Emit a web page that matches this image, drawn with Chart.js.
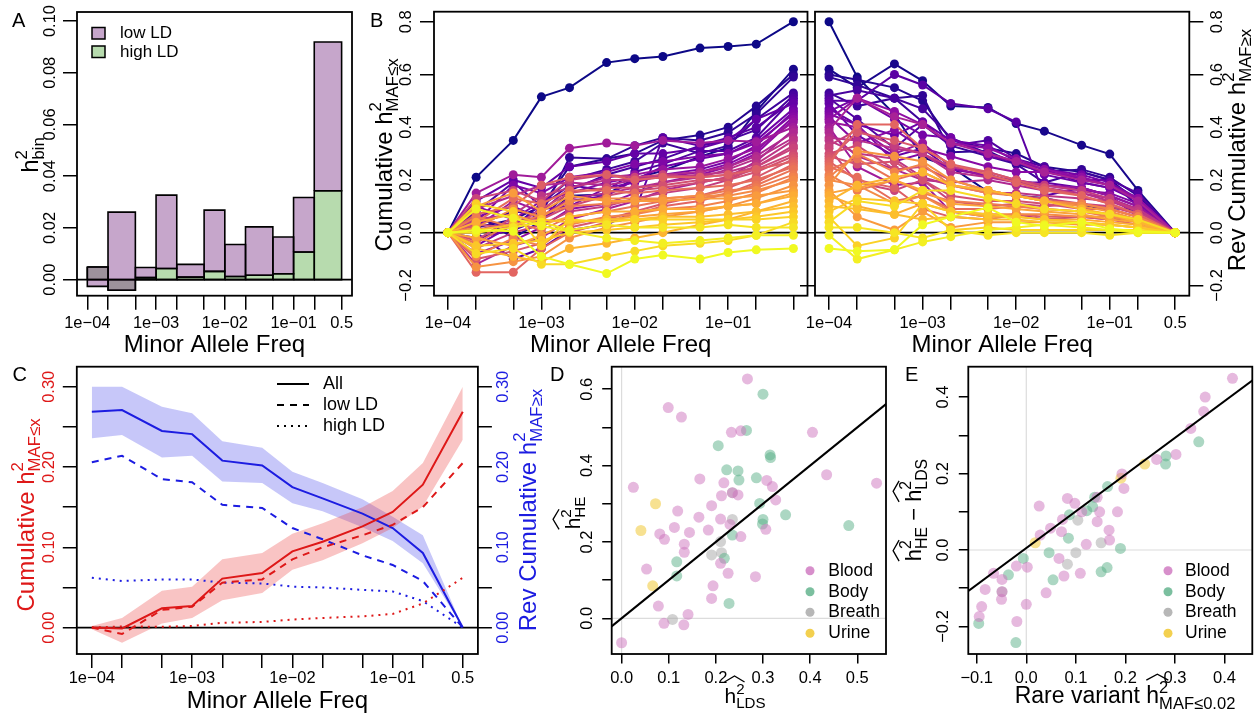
<!DOCTYPE html>
<html>
<head>
<meta charset="utf-8">
<title>Heritability by minor allele frequency</title>
<script src="https://cdn.jsdelivr.net/npm/chart.js@4.4.1/dist/chart.umd.min.js"></script>
<style>
  body { margin: 0; background: #fff; }
  #fig { position: relative; width: 1260px; height: 719px; overflow: hidden; background: #fff; }
  #fig canvas { position: absolute; }
</style>
</head>
<body>
<div id="fig">
  <canvas id="chartA"></canvas>
  <canvas id="chartB1"></canvas>
  <canvas id="chartB2"></canvas>
  <canvas id="chartC"></canvas>
  <canvas id="chartD"></canvas>
  <canvas id="chartE"></canvas>
</div>
<script>
const FONT = '"Liberation Sans", Arial, Helvetica, sans-serif';
const TICK_FONT = 16.5;
const ROT = -Math.PI / 2;

// ---- shared x axis: minor allele frequency bin edges ----
const mafEdges = [1e-4, 2e-4, 5e-4, 1e-3, 2e-3, 5e-3, 1e-2, 2e-2, 5e-2, 0.1, 0.2, 0.5];
const mafLabelAt = [1e-4, 1e-3, 1e-2, 1e-1, 0.5];
const mafLabels = ['1e\u221204', '1e\u221203', '1e\u221202', '1e\u221201', '0.5'];

// ---- A: h2 per bin (high LD stacked first, low LD on top of it) ----
const binHighLD = [0.0049, -0.0041, 0.0008, 0.0043, 0.0010, 0.0032, 0.0012, 0.0017, 0.0023, 0.0107, 0.0344];
const binLowLD = [-0.0075, 0.0302, 0.0039, 0.0284, 0.0049, 0.0237, 0.0124, 0.0187, 0.0142, 0.0211, 0.0575];
const aTicks = [0, 0.02, 0.04, 0.06, 0.08, 0.10];
const aLabels = ['0.00', '0.02', '0.04', '0.06', '0.08', '0.10'];

// ---- B: cumulative h2 (MAF <= x) per trait, one row per trait ----
const traitCum = [
  [0, 0.21, 0.35, 0.515, 0.55, 0.645, 0.66, 0.668, 0.70, 0.706, 0.715, 0.80],
  [0, 0.07, -0.02, 0.044, 0.14, 0.145, 0.206, 0.235, 0.288, 0.322, 0.46, 0.62],
  [0, 0.02, 0.05, 0.10, 0.25, 0.28, 0.30, 0.35, 0.37, 0.40, 0.48, 0.60],
  [0, 0.03, 0.08, 0.07, 0.285, 0.28, 0.33, 0.36, 0.35, 0.38, 0.45, 0.59],
  [0, 0.05, 0.02, 0.11, 0.20, 0.24, 0.27, 0.34, 0.30, 0.33, 0.43, 0.53],
  [0, -0.02, 0.01, 0.05, 0.16, 0.22, 0.25, 0.28, 0.33, 0.35, 0.39, 0.52],
  [0, 0.08, 0.19, 0.10, 0.18, 0.16, 0.23, 0.26, 0.31, 0.31, 0.36, 0.51],
  [0, 0.0, -0.10, -0.06, 0.01, 0.03, 0.08, 0.36, 0.33, 0.36, 0.40, 0.50],
  [0, 0.12, 0.20, 0.17, 0.25, 0.27, 0.30, 0.30, 0.32, 0.35, 0.43, 0.49],
  [0, 0.06, 0.10, 0.05, 0.12, 0.14, 0.20, 0.25, 0.28, 0.30, 0.35, 0.47],
  [0, -0.05, 0.03, 0.09, 0.10, 0.17, 0.19, 0.22, 0.24, 0.27, 0.33, 0.46],
  [0, 0.04, 0.18, 0.15, 0.21, 0.23, 0.26, 0.27, 0.29, 0.30, 0.34, 0.45],
  [0, 0.10, 0.05, 0.12, 0.15, 0.19, 0.21, 0.21, 0.23, 0.26, 0.31, 0.44],
  [0, -0.08, -0.03, 0.02, 0.09, 0.11, 0.15, 0.19, 0.22, 0.25, 0.30, 0.43],
  [0, 0.02, 0.12, 0.08, 0.17, 0.21, 0.22, 0.24, 0.25, 0.28, 0.32, 0.42],
  [0, 0.15, 0.22, 0.21, 0.32, 0.34, 0.33, 0.35, 0.34, 0.35, 0.345, 0.40],
  [0, -0.12, -0.05, -0.02, 0.05, 0.09, 0.12, 0.16, 0.19, 0.21, 0.27, 0.39],
  [0, 0.09, 0.14, 0.18, 0.19, 0.18, 0.20, 0.22, 0.23, 0.25, 0.29, 0.38],
  [0, 0.01, 0.04, 0.06, 0.13, 0.15, 0.17, 0.19, 0.21, 0.24, 0.28, 0.36],
  [0, 0.05, 0.07, 0.14, 0.17, 0.20, 0.20, 0.21, 0.22, 0.23, 0.26, 0.35],
  [0, -0.06, 0.00, 0.03, 0.08, 0.10, 0.13, 0.15, 0.17, 0.20, 0.25, 0.33],
  [0, 0.13, 0.16, 0.12, 0.20, 0.22, 0.21, 0.22, 0.21, 0.22, 0.25, 0.32],
  [0, -0.03, 0.06, 0.05, 0.10, 0.14, 0.16, 0.17, 0.19, 0.21, 0.24, 0.30],
  [0, 0.03, 0.02, 0.09, 0.15, 0.17, 0.17, 0.18, 0.20, 0.20, 0.23, 0.29],
  [0, -0.10, -0.07, -0.04, 0.02, 0.05, 0.08, 0.11, 0.14, 0.17, 0.21, 0.28],
  [0, 0.07, 0.10, 0.18, 0.21, 0.22, 0.20, 0.21, 0.21, 0.22, 0.24, 0.27],
  [0, -0.15, -0.15, -0.06, 0.00, 0.04, 0.07, 0.10, 0.12, 0.15, 0.19, 0.26],
  [0, 0.04, 0.13, 0.11, 0.16, 0.16, 0.15, 0.16, 0.17, 0.18, 0.20, 0.25],
  [0, -0.04, 0.04, 0.01, 0.06, 0.08, 0.10, 0.12, 0.13, 0.15, 0.18, 0.24],
  [0, 0.06, 0.02, 0.07, 0.10, 0.11, 0.12, 0.13, 0.14, 0.16, 0.17, 0.22],
  [0, -0.09, -0.02, -0.05, 0.03, 0.06, 0.07, 0.09, 0.10, 0.12, 0.15, 0.21],
  [0, 0.02, 0.09, 0.06, 0.12, 0.13, 0.13, 0.13, 0.14, 0.14, 0.16, 0.20],
  [0, -0.13, -0.11, -0.09, -0.02, 0.02, 0.04, 0.06, 0.08, 0.10, 0.13, 0.18],
  [0, 0.10, 0.15, 0.08, 0.14, 0.12, 0.12, 0.12, 0.13, 0.13, 0.14, 0.16],
  [0, -0.02, -0.05, -0.01, 0.04, 0.05, 0.06, 0.07, 0.08, 0.10, 0.11, 0.15],
  [0, 0.04, 0.07, 0.03, 0.06, 0.08, 0.08, 0.09, 0.09, 0.10, 0.11, 0.14],
  [0, -0.06, -0.09, -0.11, -0.06, -0.04, -0.02, 0.00, 0.03, 0.05, 0.08, 0.12],
  [0, 0.01, 0.03, 0.05, 0.04, 0.05, 0.05, 0.06, 0.06, 0.07, 0.08, 0.10],
  [0, -0.05, -0.04, -0.03, 0.00, 0.01, 0.02, 0.03, 0.04, 0.05, 0.06, 0.08],
  [0, 0.11, 0.08, -0.05, 0.05, 0.04, 0.05, 0.05, 0.05, 0.05, 0.05, 0.06],
  [0, -0.08, -0.06, -0.12, -0.12, -0.09, -0.07, -0.05, -0.04, -0.03, -0.01, 0.04],
  [0, 0.00, 0.02, 0.04, 0.01, 0.03, 0.02, 0.02, 0.02, 0.03, 0.02, 0.02],
  [0, 0.09, 0.055, 0.025, 0.005, -0.02, -0.03, -0.04, -0.03, -0.02, -0.01, -0.01],
  [0, 0.01, 0.005, -0.09, -0.12, -0.155, -0.10, -0.085, -0.10, -0.075, -0.065, -0.06]
];
const bTicks = [-0.2, 0, 0.2, 0.4, 0.6, 0.8];
const bLabels = ['\u22120.2', '0.0', '0.2', '0.4', '0.6', '0.8'];
// the left panel's 0.5 label is hidden behind the right panel in the original
const bLeftLabelAt = [1e-4, 1e-3, 1e-2, 1e-1];

// ---- C: mean cumulative (red) and reverse cumulative (blue) h2 ----
const cumAll = [0, -0.001, 0.024, 0.027, 0.061, 0.068, 0.095, 0.107, 0.126, 0.144, 0.178, 0.269];
const cumAllHi = [0.002, 0.012, 0.046, 0.051, 0.085, 0.093, 0.117, 0.130, 0.150, 0.170, 0.205, 0.300];
const cumAllLo = [-0.002, -0.019, 0.005, 0.012, 0.034, 0.043, 0.072, 0.084, 0.105, 0.124, 0.151, 0.234];
const cumLowLD = [0, -0.008, 0.022, 0.026, 0.056, 0.060, 0.085, 0.100, 0.115, 0.128, 0.150, 0.205];
const cumHighLD = [0, 0.0015, 0.001, 0.002, 0.006, 0.007, 0.010, 0.012, 0.014, 0.017, 0.030, 0.062];
const revAll = [0.269, 0.271, 0.245, 0.241, 0.208, 0.202, 0.175, 0.161, 0.142, 0.124, 0.093, 0];
const revAllHi = [0.300, 0.300, 0.275, 0.267, 0.232, 0.224, 0.194, 0.180, 0.160, 0.138, 0.115, 0];
const revAllLo = [0.236, 0.240, 0.212, 0.214, 0.182, 0.180, 0.155, 0.145, 0.125, 0.108, 0.080, 0];
const revLowLD = [0.206, 0.214, 0.185, 0.181, 0.153, 0.149, 0.124, 0.110, 0.090, 0.078, 0.058, 0];
const revHighLD = [0.062, 0.058, 0.060, 0.060, 0.056, 0.055, 0.051, 0.050, 0.047, 0.045, 0.033, 0];
const cTicks = [0, 0.05, 0.10, 0.15, 0.20, 0.25, 0.30];
const cLabelAt = [0, 0.10, 0.20, 0.30];
const cLabels = ['0.00', '0.10', '0.20', '0.30'];

// ---- D: HE vs LDSC estimates ----
const bloodLDS = [0.267, 0.099, 0.127, 0.233, 0.253, 0.405, 0.435, 0.541, 0.025, 0.166, 0.217, 0.308, 0.32, 0.327, 0.212, 0.235, 0.247, 0.191, 0.119, 0.164, 0.112, 0.184, 0.21, 0.23, 0.144, 0.081, 0.091, 0.133, 0.133, 0.253, 0.306, 0.053, 0.21, 0.226, 0.194, 0.284, 0.191, 0.078, 0.09, 0.141, 0.132, 0.0];
const bloodHE = [0.627, 0.552, 0.527, 0.487, 0.491, 0.487, 0.376, 0.354, 0.343, 0.365, 0.355, 0.361, 0.345, 0.31, 0.321, 0.329, 0.323, 0.295, 0.281, 0.265, 0.238, 0.231, 0.26, 0.246, 0.225, 0.221, 0.207, 0.194, 0.173, 0.214, 0.233, 0.129, 0.144, 0.118, 0.085, 0.109, 0.052, 0.032, -0.013, 0.01, -0.017, -0.064];
const bodyLDS = [0.30, 0.265, 0.205, 0.315, 0.316, 0.223, 0.247, 0.249, 0.286, 0.293, 0.348, 0.30, 0.299, 0.482, 0.235, 0.117, 0.117, 0.218, 0.228];
const bodyHE = [0.587, 0.492, 0.452, 0.428, 0.421, 0.389, 0.386, 0.362, 0.368, 0.301, 0.271, 0.259, 0.247, 0.243, 0.218, 0.148, 0.111, 0.157, 0.039];
const breathLDS = [0.235, 0.21, 0.212, 0.191, 0.108, 0.235];
const breathHE = [0.259, 0.201, 0.172, 0.166, -0.003, 0.329];
const urineLDS = [0.072, 0.041, 0.066];
const urineHE = [0.30, 0.23, 0.085];
const dLineX = [-0.1, 0.7];
const dLineY = [-0.1, 0.7];
const dXTicks = [0, 0.1, 0.2, 0.3, 0.4, 0.5];
const dXLabels = ['0.0', '0.1', '0.2', '0.3', '0.4', '0.5'];
const dYTicks = [0, 0.1, 0.2, 0.3, 0.4, 0.5, 0.6];
const dYLabelAt = [0, 0.2, 0.4, 0.6];
const dYLabels = ['0.0', '0.2', '0.4', '0.6'];

// ---- E: HE minus LDSC vs rare-variant h2 ----
const bloodRare = [0.416, 0.361, 0.358, 0.332, 0.263, 0.302, 0.193, 0.197, 0.184, 0.167, 0.168, 0.083, 0.098, 0.026, 0.112, 0.143, 0.148, 0.143, 0.073, 0.049, 0.071, 0.028, 0.121, 0.066, 0.076, 0.109, -0.02, 0.002, -0.066, -0.049, -0.083, -0.049, -0.05, 0.04, 0.0, -0.09, -0.095, -0.019];
const bloodDiff = [0.449, 0.40, 0.362, 0.318, 0.237, 0.25, 0.199, 0.161, 0.10, 0.052, 0.026, 0.135, 0.122, 0.115, 0.10, 0.138, 0.10, 0.074, 0.08, 0.057, 0.048, 0.039, 0.015, -0.022, -0.068, -0.061, -0.042, -0.045, -0.061, -0.077, -0.103, -0.109, -0.129, -0.112, -0.142, -0.148, -0.174, -0.187];
const bodyRare = [0.348, 0.282, 0.281, 0.164, 0.138, 0.134, 0.122, 0.087, 0.085, 0.046, -0.006, -0.036, 0.054, 0.151, 0.163, 0.19, -0.096, -0.021];
const bodyDiff = [0.283, 0.246, 0.225, 0.166, 0.138, 0.113, 0.103, 0.092, 0.031, -0.007, -0.022, -0.065, -0.078, -0.057, -0.046, 0.004, -0.192, -0.242];
const breathRare = [0.104, 0.151, 0.1, 0.083, -0.049];
const breathDiff = [0.078, 0.019, -0.007, -0.037, -0.109];
const urineRare = [0.239, 0.191, 0.018];
const urineDiff = [0.225, 0.188, 0.019];
const eLineX = [-0.2, 0.6];
const eLineY = [-0.187, 0.582];
const eXTicks = [-0.1, 0, 0.1, 0.2, 0.3, 0.4];
const eXLabels = ['\u22120.1', '0.0', '0.1', '0.2', '0.3', '0.4'];
const eYTicks = [-0.2, -0.1, 0, 0.1, 0.2, 0.3, 0.4];
const eYLabelAt = [-0.2, 0, 0.2, 0.4];
const eYLabels = ['\u22120.2', '0.0', '0.2', '0.4'];

const groups = ['Blood', 'Body', 'Breath', 'Urine'];

// ---- colours ----
const PURPLE = 'rgba(118,42,131,0.42)';
const GREEN = 'rgba(95,175,75,0.45)';
const RED = 'rgb(222,24,24)';
const BLUE = 'rgb(28,28,225)';
const RED_BAND = 'rgba(235,60,60,0.3)';
const BLUE_BAND = 'rgba(70,70,235,0.3)';
const GROUP_RGB = ['205,115,190', '90,175,135', '165,165,165', '240,196,35'];
const PLASMA = ['#0d0887', '#41049d', '#6a00a8', '#8f0da4', '#b12a90', '#cc4778', '#e16462', '#f2844b', '#fca636', '#fcce25', '#f0f921'];

function hexRgb(h) { return [1, 3, 5].map(i => parseInt(h.slice(i, i + 2), 16)); }
function plasma(t) {
  const n = PLASMA.length - 1;
  const i = Math.min(n - 1, Math.floor(t * n));
  const f = t * n - i;
  const a = hexRgb(PLASMA[i]), b = hexRgb(PLASMA[i + 1]);
  return 'rgb(' + a.map((c, k) => Math.round(c + (b[k] - c) * f)).join(',') + ')';
}

// ---- helpers ----
function pts(xs, ys) { return ys.map((y, i) => ({ x: xs[i], y: y })); }

function line(data, color, width, dash, extra) {
  return Object.assign({ data: data, borderColor: color, backgroundColor: color, borderWidth: width,
    borderDash: dash || [], pointRadius: 0, fill: false }, extra || {});
}

function hline(y, x0, x1, color, width, extra) {
  return line([{ x: x0, y: y }, { x: x1, y: y }], color, width, [], extra);
}
function vline(x, y0, y1, color, width, extra) {
  return line([{ x: x, y: y0 }, { x: x, y: y1 }], color, width, [], extra);
}

function rect(x0, x1, y0, y1, col) {
  return { data: [{ x: x0, y: y0 }, { x: x0, y: y1 }, { x: x1, y: y1 }, { x: x1, y: y0 }, { x: x0, y: y0 }],
    fill: 'shape', backgroundColor: col, borderColor: '#000', borderWidth: 1.6,
    borderJoinStyle: 'miter', pointRadius: 0 };
}

function ax(position, type, min, max, at, size, tick) {
  return {
    type: type, position: position, min: min, max: max, bounds: 'data',
    grid: { drawOnChartArea: false, drawTicks: true, tickLength: tick, color: '#000', lineWidth: 1.5 },
    border: { display: false },
    ticks: { display: false, callback: () => '' },
    afterBuildTicks: s => { s.ticks = at.map(v => ({ value: v })); },
    afterFit: s => { if (s.isHorizontal()) s.height = size; else s.width = size; }
  };
}

function txt(ctx, s, x, y, o) {
  o = o || {};
  ctx.save();
  ctx.font = (o.size || TICK_FONT) + 'px ' + FONT;
  ctx.fillStyle = o.color || '#000';
  ctx.textAlign = o.align || 'center';
  ctx.textBaseline = o.base || 'middle';
  ctx.translate(x, y);
  if (o.rot) ctx.rotate(o.rot);
  ctx.fillText(s, 0, 0);
  ctx.restore();
}

// text with superscript / subscript pieces, optional wide hats
function rich(ctx, x, y, parts, o) {
  o = o || {};
  ctx.save();
  ctx.translate(x, y);
  if (o.rot) ctx.rotate(o.rot);
  ctx.fillStyle = ctx.strokeStyle = o.color || '#000';
  ctx.textBaseline = 'alphabetic';
  ctx.textAlign = 'left';
  let pos = 0, prev = 0;
  const laid = parts.map(p => {
    ctx.font = p.s + 'px ' + FONT;
    const w = ctx.measureText(p.t).width;
    const x0 = p.same ? prev : pos;
    prev = x0;
    pos = Math.max(pos, x0 + w);
    return { p: p, x0: x0, w: w };
  });
  const shift = o.align === 'left' ? 0 : -pos / 2;
  laid.forEach((q, i) => {
    ctx.font = q.p.s + 'px ' + FONT;
    ctx.fillText(q.p.t, q.x0 + shift, q.p.dy || 0);
    if (q.p.hat) {
      const e = laid[i + q.p.hat];
      const xa = q.x0 + shift, xb = e.x0 + e.w + shift;
      const base = -0.95 * q.p.s - 1, peak = base - 6;
      ctx.lineWidth = 1.3;
      ctx.beginPath();
      ctx.moveTo(xa, base); ctx.lineTo((xa + xb) / 2, peak); ctx.lineTo(xb, base);
      ctx.stroke();
    }
  });
  ctx.restore();
}

function xLab(c, id, at, labels, y, color) {
  const s = c.scales[id];
  at.forEach((v, i) => txt(c.ctx, labels[i], s.getPixelForValue(v), y, { color: color }));
}
function yLab(c, id, at, labels, x, color) {
  const s = c.scales[id];
  at.forEach((v, i) => txt(c.ctx, labels[i], x, s.getPixelForValue(v), { rot: ROT, color: color }));
}
function letter(ctx, s, x, y) { txt(ctx, s, x, y, { size: 20, align: 'left', base: 'alphabetic' }); }

function frame(c) {
  const a = c.chartArea, ctx = c.ctx;
  ctx.save();
  ctx.strokeStyle = '#000';
  ctx.lineWidth = 1.8;
  ctx.strokeRect(a.left, a.top, a.right - a.left, a.bottom - a.top);
  ctx.restore();
}

function panel(id, left, top, w, h, pad, scales, datasets, draw) {
  const cv = document.getElementById(id);
  cv.width = w; cv.height = h;
  cv.style.left = left + 'px'; cv.style.top = top + 'px';
  return new Chart(cv.getContext('2d'), {
    type: 'line',
    data: { datasets: datasets },
    options: {
      responsive: false, animation: false, events: [], devicePixelRatio: 1,
      layout: { padding: pad },
      plugins: { legend: { display: false }, tooltip: { enabled: false } },
      scales: scales
    },
    plugins: [{ id: 'deco', afterDraw(c) { frame(c); draw(c, c.ctx, c.chartArea); } }]
  });
}

const LOG_MIN = Math.pow(10, -4.15), LOG_MAX = Math.pow(10, -0.15);
const subTitle = (main, sub, size) => [
  { t: main, s: size }, { t: '2', s: size * 0.7, dy: -size * 0.44 }, { t: sub, s: size * 0.7, dy: size * 0.26, same: true }
];
const hatTitle = (sub, size) => [
  { t: 'h', s: size, hat: 1 }, { t: '2', s: size * 0.72, dy: -size * 0.44 }, { t: sub, s: size * 0.72, dy: size * 0.26, same: true }
];

// ================= A =================
(function () {
  const purple = [], green = [];
  binHighLD.forEach((g, i) => {
    green.push(rect(mafEdges[i], mafEdges[i + 1], 0, g, GREEN));
    purple.push(rect(mafEdges[i], mafEdges[i + 1], g, g + binLowLD[i], PURPLE));
  });
  const ds = [hline(0, 1e-6, 10, '#000', 1.6)].concat(purple, green);
  panel('chartA', 0, 0, 360, 360, { top: 12, right: 8 }, {
    x: ax('bottom', 'logarithmic', LOG_MIN, LOG_MAX, mafEdges, 64.3, 14),
    y: ax('left', 'linear', -0.0062, 0.1035, aTicks, 77, 14)
  }, ds, (c, ctx, a) => {
    xLab(c, 'x', mafLabelAt, mafLabels, a.bottom + 27.5);
    yLab(c, 'y', aTicks, aLabels, a.left - 27);
    rich(ctx, (a.left + a.right) / 2, 351.5, [{ t: 'Minor Allele Freq', s: 24 }]);
    rich(ctx, 38, 155, subTitle('h', 'bin', 24), { rot: ROT });
    letter(ctx, 'A', 12, 27);
    [['low LD', PURPLE, 27.5], ['high LD', GREEN, 46]].forEach(r => {
      ctx.save();
      ctx.fillStyle = r[1];
      ctx.fillRect(92, r[2], 13, 11.5);
      ctx.strokeStyle = '#000'; ctx.lineWidth = 1.5;
      ctx.strokeRect(92, r[2], 13, 11.5);
      ctx.restore();
      txt(ctx, r[0], 120, r[2] + 6, { size: 17, align: 'left' });
    });
  });
})();

// ================= B =================
const totals = traitCum.map(r => r[r.length - 1]);
const byTotal = totals.map((t, i) => i).sort((p, q) => totals[q] - totals[p]);
const rankOf = [];
byTotal.forEach((idx, r) => { rankOf[idx] = r; });

function traitSets(rev) {
  const ds = traitCum.map((row, i) => {
    const col = plasma(rankOf[i] / (traitCum.length - 1));
    const tot = row[row.length - 1];
    return line(row.map((v, k) => ({ x: mafEdges[k], y: rev ? tot - v : v })), col, 2, [],
      { pointRadius: 4.5, pointBorderWidth: 0, pointBackgroundColor: col, order: -rankOf[i] });
  });
  ds.push(hline(0, 1e-6, 10, '#000', 1.8, { order: 1000 }));
  return ds;
}

panel('chartB1', 360, 0, 452, 360, { top: 11.7, right: 3.7 }, {
  x: ax('bottom', 'logarithmic', LOG_MIN, LOG_MAX, mafEdges, 64.3, 14),
  y: ax('left', 'linear', -0.239, 0.838, bTicks, 74, 14)
}, traitSets(false), (c, ctx, a) => {
  xLab(c, 'x', bLeftLabelAt, mafLabels, a.bottom + 27.5);
  yLab(c, 'y', bTicks, bLabels, a.left - 28);
  rich(ctx, (a.left + a.right) / 2, 351.5, [{ t: 'Minor Allele Freq', s: 24 }]);
  rich(ctx, 31.5, 155, subTitle('Cumulative h', 'MAF\u2264x', 24), { rot: ROT });
  letter(ctx, 'B', 10, 27);
});

panel('chartB2', 796, 0, 464, 360, { top: 11.7 }, {
  x: ax('bottom', 'logarithmic', LOG_MIN, LOG_MAX, mafEdges, 64.3, 14),
  y: ax('left', 'linear', -0.239, 0.838, bTicks, 19, 15),
  y2: ax('right', 'linear', -0.239, 0.838, bTicks, 70.7, 14)
}, traitSets(true), (c, ctx, a) => {
  xLab(c, 'x', mafLabelAt, mafLabels, a.bottom + 27.5);
  yLab(c, 'y2', bTicks, bLabels, a.right + 28);
  rich(ctx, (a.left + a.right) / 2, 351.5, [{ t: 'Minor Allele Freq', s: 24 }]);
  rich(ctx, 449, 150, subTitle('Rev Cumulative h', 'MAF\u2265x', 24), { rot: ROT });
});

// ================= C =================
(function () {
  const band = (hi, lo, col, axis) => [
    line(pts(mafEdges, hi), col, 0, [], { fill: '+1', backgroundColor: col, yAxisID: axis, order: 20 }),
    line(pts(mafEdges, lo), col, 0, [], { yAxisID: axis, order: 20 })
  ];
  const ds = [
    line(pts(mafEdges, cumAll), RED, 2, []),
    line(pts(mafEdges, cumLowLD), RED, 2, [7, 6]),
    line(pts(mafEdges, cumHighLD), RED, 2, [2, 5]),
    line(pts(mafEdges, revAll), BLUE, 2, [], { yAxisID: 'y2' }),
    line(pts(mafEdges, revLowLD), BLUE, 2, [7, 6], { yAxisID: 'y2' }),
    line(pts(mafEdges, revHighLD), BLUE, 2, [2, 5], { yAxisID: 'y2' }),
    hline(0, 1e-6, 10, '#000', 1.8, { order: 10 })
  ].concat(band(cumAllHi, cumAllLo, RED_BAND, 'y'), band(revAllHi, revAllLo, BLUE_BAND, 'y2'));
  panel('chartC', 0, 360, 548, 359, { top: 6.7 }, {
    x: ax('bottom', 'logarithmic', LOG_MIN, LOG_MAX, mafEdges, 65, 14),
    y: ax('left', 'linear', -0.0329, 0.325, cTicks, 76.8, 14),
    y2: ax('right', 'linear', -0.0329, 0.325, cTicks, 70.1, 14)
  }, ds, (c, ctx, a) => {
    xLab(c, 'x', mafLabelAt, mafLabels, a.bottom + 24.5);
    yLab(c, 'y', cLabelAt, cLabels, a.left - 27, RED);
    yLab(c, 'y2', cLabelAt, cLabels, a.right + 26, BLUE);
    rich(ctx, (a.left + a.right) / 2, 348, [{ t: 'Minor Allele Freq', s: 24 }]);
    rich(ctx, 33.5, 155, subTitle('Cumulative h', 'MAF\u2264x', 24), { rot: ROT, color: RED });
    rich(ctx, 536, 150, subTitle('Rev Cumulative h', 'MAF\u2265x', 24), { rot: ROT, color: BLUE });
    letter(ctx, 'C', 12.5, 21);
    [['All', []], ['low LD', [7, 6]], ['high LD', [2, 5]]].forEach((r, i) => {
      const y = 24 + i * 21;
      ctx.save();
      ctx.setLineDash(r[1]); ctx.lineWidth = 2; ctx.strokeStyle = '#000';
      ctx.beginPath(); ctx.moveTo(277, y); ctx.lineTo(309, y); ctx.stroke();
      ctx.restore();
      txt(ctx, r[0], 323, y, { size: 18, align: 'left' });
    });
  });
})();

// ================= D / E =================
function groupSets(xsList, ysList) {
  return xsList.map((xs, g) => line(pts(xs, ysList[g]), 'rgba(' + GROUP_RGB[g] + ',0.5)', 0, [],
    { showLine: false, pointRadius: 5.5, pointBorderWidth: 0, pointBackgroundColor: 'rgba(' + GROUP_RGB[g] + ',0.5)' }));
}
function groupLegend(ctx, dotX, textX) {
  groups.forEach((g, i) => {
    const y = 210.7 + [0, 21, 41.6, 62.6][i];
    ctx.save();
    ctx.fillStyle = 'rgba(' + GROUP_RGB[i] + ',0.8)';
    ctx.beginPath(); ctx.arc(dotX, y, 4.5, 0, Math.PI * 2); ctx.fill();
    ctx.restore();
    txt(ctx, g, textX, y, { size: 17.5, align: 'left' });
  });
}

panel('chartD', 545, 360, 350, 359, { top: 6.7, right: 9 }, {
  x: ax('bottom', 'linear', -0.021, 0.561, dXTicks, 65, 9.5),
  y: ax('left', 'linear', -0.0935, 0.659, dYTicks, 66.7, 9.5)
}, [line(pts(dLineX, dLineY), '#000', 2)].concat(
  groupSets([bloodLDS, bodyLDS, breathLDS, urineLDS], [bloodHE, bodyHE, breathHE, urineHE]),
  [hline(0, -1, 1, '#dcdcdc', 1.2), vline(0, -1, 1, '#dcdcdc', 1.2)]
), (c, ctx, a) => {
  xLab(c, 'x', dXTicks, dXLabels, a.bottom + 24.3);
  yLab(c, 'y', dYLabelAt, dYLabels, a.left - 24);
  rich(ctx, 200, 343, hatTitle('LDS', 21));
  rich(ctx, 35, 153, hatTitle('HE', 21), { rot: ROT });
  letter(ctx, 'D', 5, 21);
  groupLegend(ctx, 265, 283.3);
});

panel('chartE', 890, 360, 370, 359, { top: 6.7, right: 7.7 }, {
  x: ax('bottom', 'linear', -0.117, 0.456, eXTicks, 65, 9.5),
  y: ax('left', 'linear', -0.272, 0.4795, eYTicks, 78.3, 9.5)
}, [line(pts(eLineX, eLineY), '#000', 2)].concat(
  groupSets([bloodRare, bodyRare, breathRare, urineRare], [bloodDiff, bodyDiff, breathDiff, urineDiff]),
  [hline(0, -1, 1, '#dcdcdc', 1.2), vline(0, -1, 1, '#dcdcdc', 1.2)]
), (c, ctx, a) => {
  xLab(c, 'x', eXTicks, eXLabels, a.bottom + 24.3);
  yLab(c, 'y', eYLabelAt, eYLabels, a.left - 25);
  rich(ctx, 235, 343, [{ t: 'Rare variant ', s: 23 }].concat(hatTitle('MAF\u22640.02', 23)));
  rich(ctx, 31, 150, hatTitle('HE', 22).concat([{ t: ' \u2212 ', s: 22 }], hatTitle('LDS', 22)), { rot: ROT });
  letter(ctx, 'E', 15, 21);
  groupLegend(ctx, 278, 295);
});
</script>
</body>
</html>
